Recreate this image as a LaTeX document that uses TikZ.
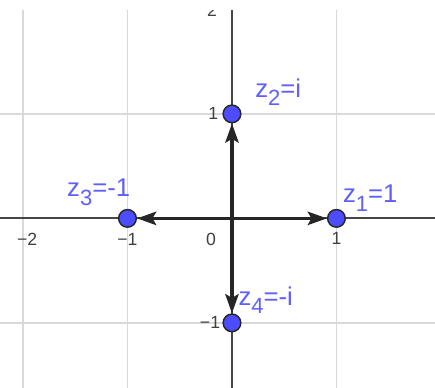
\documentclass[tikz,border=0pt]{standalone}
\usepackage{fontspec}
\setmainfont{Liberation Sans}
\usetikzlibrary{arrows.meta}
\definecolor{ptblue}{RGB}{77,77,255}
\definecolor{lblblue}{RGB}{95,95,255}
\definecolor{gridgray}{RGB}{217,217,217}
\definecolor{axisgray}{RGB}{70,70,70}
\newcommand{\zsub}[1]{\raisebox{-6pt}{\fontsize{15}{15}\selectfont #1}}

\begin{document}
\begin{tikzpicture}[
    x=2.5cm, y=2.5cm,
    gridline/.style={gridgray, line width=0.9pt},
    axisline/.style={axisgray, line width=1.3pt},
    vector/.style={-{Stealth[length=13pt, width=9pt, inset=2.5pt]}, line width=2.4pt, black!85},
    point/.style={circle, draw=black!85, fill=ptblue, line width=1pt, minimum size=12pt, inner sep=0pt},
    ptlabel/.style={anchor=base west, inner sep=0pt, text=lblblue, font=\fontsize{17.5}{19}\selectfont},
    ticklabel/.style={inner sep=0pt, text=black!75, font=\fontsize{12}{14}\selectfont}
]
    \useasboundingbox (-2.22,-1.622) rectangle (1.943,2.09);
    \clip (-2.22,-1.622) rectangle (1.943,2.09);

    % Grid
    \foreach \x in {-2,-1,1} \draw[gridline] (\x,-1.7) -- (\x,2.2);
    \foreach \y in {-1,1,2} \draw[gridline] (-2.3,\y) -- (2,\y);

    % Axes
    \draw[axisline] (-2.3,0) -- (2,0);
    \draw[axisline] (0,-1.7) -- (0,2.2);

    % Tick labels
    \node[ticklabel] (tx-2) at (-1.96,-0.2) {−2};
    \node[ticklabel] (tx-1) at (-1.0,-0.2) {−1};
    \node[ticklabel] (t0) at (-0.2,-0.2) {0};
    \node[ticklabel] (tx1) at (1.0,-0.19) {1};
    \node[ticklabel] (ty1) at (-0.18,1.0) {1};
    \node[ticklabel] (ty-1) at (-0.21,-1.0) {−1};
    \node[ticklabel] (ty2) at (-0.19,1.99) {2};
    % white strip along the top edge
    \fill[white] (-2.3,1.99) rectangle (2,2.2);

    % Nodes
    \coordinate (O) at (0,0);
    \node[point] (z1) at (1,0) {};
    \node[point] (z2) at (0,1) {};
    \node[point] (z3) at (-1,0) {};
    \node[point] (z4) at (0,-1) {};

    % Vectors
    \draw[vector] (O) -- (z1);
    \draw[vector] (O) -- (z2);
    \draw[vector] (O) -- (z3);
    \draw[vector] (O) -- (z4);

    % Labels
    \node[ptlabel] (lz1) at (1.06,0.15) {z\zsub{1}=1};
    \node[ptlabel] (lz2) at (0.22,1.16) {z\zsub{2}=i};
    \node[ptlabel] (lz3) at (-1.58,0.21) {z\zsub{3}=-1};
    \node[ptlabel] (lz4) at (0.06,-0.83) {z\zsub{4}=-i};
\end{tikzpicture}
\end{document}
